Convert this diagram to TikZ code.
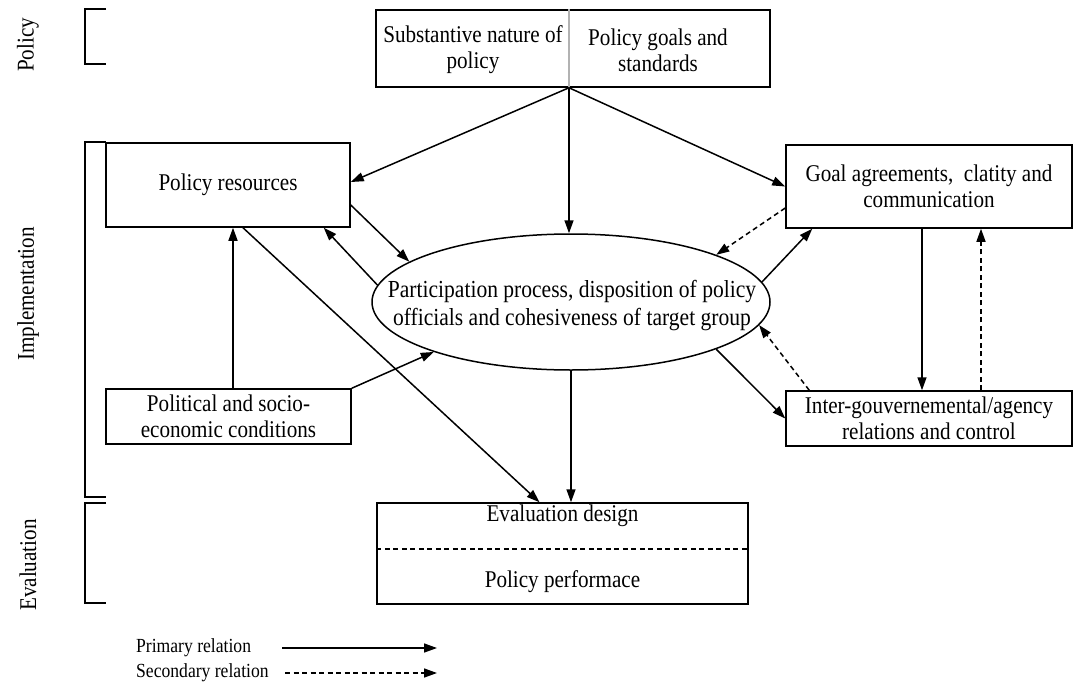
\documentclass[tikz,border=0pt]{standalone}
\usepackage{fontspec}
\setmainfont{Liberation Serif}[FakeStretch=0.88]
\usetikzlibrary{arrows.meta,shapes.geometric,calc}
\begin{document}
\begin{tikzpicture}[x=1pt,y=-1pt]
\tikzset{
 txt/.style={font=\fontsize{24}{26}\selectfont, align=center, inner sep=0pt},
 boxstyle/.style={draw, line width=1.5pt, txt},
 prim/.style={-{Triangle[length=13pt,width=9pt]}, line width=1.5pt},
 sec/.style={prim, dash pattern=on 5pt off 3.5pt},
 brk/.style={line width=1.5pt},
 lab/.style={font=\fontsize{24}{26}\selectfont, inner sep=0pt, rotate=90},
 leg/.style={font=\fontsize{20}{22}\selectfont, inner sep=0pt, anchor=west},
}
\useasboundingbox (0,0) rectangle (1074,683);
\fill[white] (0,0) rectangle (1074,683);

% side labels and brackets
\node[lab] (lpol) at (28,45) {Policy};
\node[lab] (limp) at (28,294) {Implementation};
\node[lab] (leva) at (28,565) {Evaluation};
\draw[brk] (106,9) -- (85,9) -- (85,64) -- (106,64);
\draw[brk] (106,142) -- (85,142) -- (85,497) -- (106,497);
\draw[brk] (106,503) -- (85,503) -- (85,603) -- (106,603);

% top box
\node[draw, line width=1.5pt, minimum width=394pt, minimum height=77pt, inner sep=0pt] (top) at (573,48.5) {};
\draw[gray!60, line width=1.5pt] ([xshift=-4pt]top.north) -- ([xshift=-4pt]top.south);
\node[txt] (subst) at (473,50) {Substantive nature of\\policy};
\node[txt] (goals) at (658,50) {Policy goals and\\standards};
\coordinate (tp) at ([xshift=-4pt]top.south);

% boxes
\node[boxstyle, minimum width=244pt, minimum height=84pt] (pr) at (228,185) {Policy resources};
\node[boxstyle, minimum width=286pt, minimum height=83pt] (goal) at (929,186.5) {Goal agreements,\ \ clatity and\\communication};
\node[boxstyle, minimum width=286pt, minimum height=55pt] (ig) at (929,418.5) {Inter-gouvernemental/agency\\relations and control};
\node[boxstyle, minimum width=245pt, minimum height=55pt] (pol) at (228.5,416.5) {Political and socio-\\economic conditions};

% ellipse
\node[draw, ellipse, line width=1.5pt, minimum width=398pt, minimum height=136pt, inner sep=0pt] (ell) at (571,302) {};
\node[txt, font=\fontsize{24.5}{28}\selectfont] (elltxt) at (572,306) {Participation process, disposition of policy\\officials and cohesiveness of target group};

% evaluation box
\node[draw, line width=1.5pt, minimum width=371pt, minimum height=101pt, inner sep=0pt] (ev) at (562.5,553.5) {};
\draw[line width=1.5pt, dash pattern=on 5pt off 3.5pt] ([yshift=4.5pt]ev.west) -- ([yshift=4.5pt]ev.east);
\node[txt] (evd) at (562.5,516) {Evaluation design};
\node[txt] (evp) at (562.5,582) {Policy performace};

% connectors
\draw[prim] (tp) -- ([yshift=3pt]pr.east);
\draw[prim] (tp) -- (tp |- ell.north);
\draw[prim] (tp) -- (goal.west);
\draw[prim] ([yshift=-20pt]pr.east) -- (ell.166);
\draw[prim] (ell.175) -- ([xshift=-27pt]pr.south east);
\draw[prim] ([xshift=15pt]pr.south) -- ([xshift=-23pt]ev.north);
\draw[prim] ([xshift=4.5pt]pol.north) -- ([xshift=5pt]pr.south);
\draw[prim] (pol.north east) -- (ell.200);
\draw[prim] (ell.south) -- (ell.south |- ev.north);
\draw[sec] ([yshift=-21.5pt]goal.west) -- (ell.18);
\draw[prim] (ell.6) -- ([xshift=27pt]goal.south west);
\draw[prim] ([xshift=-7pt]goal.south) -- ([xshift=-7pt]ig.north);
\draw[sec] ([xshift=52pt]ig.north) -- ([xshift=52pt]goal.south);
\draw[sec] ([xshift=24pt]ig.north west) -- (ell.-7);
\draw[prim] (ell.-18) -- (ig.west);

% legend
\node[leg] (lp) at (136,648) {Primary relation};
\node[leg] (ls) at (136,673) {Secondary relation};
\coordinate (lp1) at (282,648);
\coordinate (lp2) at (437,648);
\coordinate (ls1) at (285,673);
\coordinate (ls2) at (437,673);
\draw[prim] (lp1) -- (lp2);
\draw[sec] (ls1) -- (ls2);
\end{tikzpicture}
\end{document}
